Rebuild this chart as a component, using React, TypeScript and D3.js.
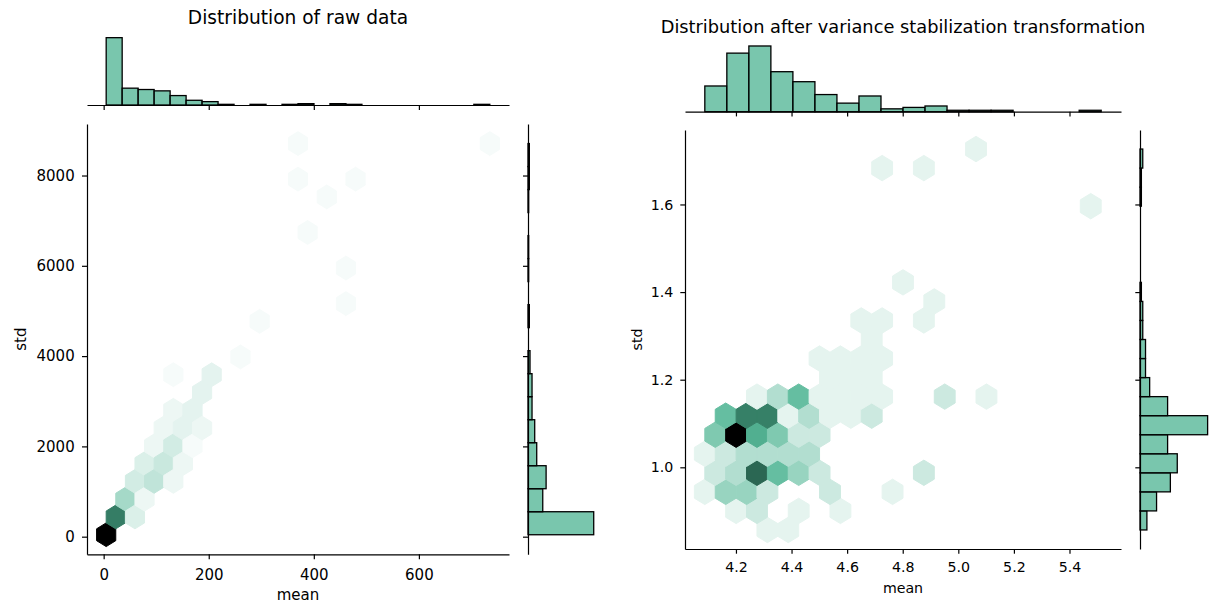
import React, { useEffect, useRef } from 'react';
import * as d3 from 'd3';

const WIDTH = 1209;
const HEIGHT = 605;
const BASE_COLOR = '#4CB391';

// ---- left panel: raw mean / std ----
const rawTitle = 'Distribution of raw data';
const rawMeanExtent = [4.8, 735];
const rawStdExtent = [43, 8708];
const rawGridSize = 20;
// hexbin cells: [col, row, count], col/row in half-cell steps from the lattice origin
const rawHexCells = [
    [0, 0, 40], [1, 1, 26], [2, 2, 10], [3, 1, 4], [3, 3, 5], [4, 2, 2], [4, 4, 4],
    [5, 3, 7], [5, 5, 2], [6, 4, 6], [6, 6, 2], [7, 3, 2], [7, 5, 5], [7, 7, 2],
    [8, 4, 2], [8, 6, 3], [9, 5, 1], [9, 7, 3], [10, 6, 2], [10, 8, 3], [11, 9, 3],
    [7, 9, 1], [14, 10, 1], [16, 12, 1], [21, 17, 1], [25, 13, 1], [25, 15, 1],
    [23, 19, 1], [20, 20, 1], [26, 20, 1], [20, 22, 1], [40, 22, 1],
];
const rawMeanHist = [100, 25, 23, 21, 14, 7, 5, 1, 0, 1, 0, 1, 2, 0, 2, 1, 0, 0, 0, 0, 0, 0, 0, 1];
const rawStdHist = [98, 22, 27, 13, 10, 6, 6, 3, 0, 2, 0, 1, 1, 0, 1, 2, 2];
const rawMeanTicks = [0, 200, 400, 600];
const rawStdTicks = [0, 2000, 4000, 6000, 8000];

// ---- right panel: after variance stabilization ----
const vstTitle = 'Distribution after variance stabilization transformation';
const vstMeanExtent = [4.088, 5.514];
const vstStdExtent = [0.857, 1.7265];
const vstGridSize = 19;
const vstHexCells = [
    [6, 0, 1], [8, 0, 1],
    [3, 1, 1], [5, 1, 2], [9, 1, 1], [13, 1, 1],
    [0, 2, 1], [2, 2, 4], [4, 2, 4], [6, 2, 2], [12, 2, 2], [18, 2, 1],
    [1, 3, 2], [3, 3, 3], [5, 3, 10], [7, 3, 6], [9, 3, 4], [11, 3, 2], [21, 3, 2],
    [0, 4, 1], [2, 4, 2], [4, 4, 3], [6, 4, 3], [8, 4, 3], [10, 4, 3],
    [1, 5, 5], [3, 5, 14], [5, 5, 7], [7, 5, 5], [9, 5, 2], [11, 5, 2],
    [2, 6, 6], [4, 6, 9], [6, 6, 9], [8, 6, 1], [10, 6, 3], [12, 6, 1], [14, 6, 1], [16, 6, 2],
    [5, 7, 1], [7, 7, 3], [9, 7, 6], [11, 7, 1], [13, 7, 1], [15, 7, 1], [17, 7, 1], [23, 7, 2], [27, 7, 1],
    [12, 8, 1], [14, 8, 1], [16, 8, 1],
    [11, 9, 1], [13, 9, 1], [15, 9, 1], [17, 9, 1],
    [16, 10, 1],
    [15, 11, 1], [17, 11, 1], [21, 11, 1],
    [22, 12, 1], [19, 13, 1], [37, 17, 1], [17, 19, 1], [21, 19, 1], [26, 20, 1],
];
const vstMeanHist = [18, 41, 46, 28, 21, 12, 6, 11, 2, 3, 4, 1, 1, 1, 0, 0, 0, 1];
const vstStdHist = [5, 12, 22, 27, 20, 49, 20, 7, 4, 4, 2, 2, 1, 0, 0, 0, 0, 1, 1, 2];
const vstMeanTicks = [4.2, 4.4, 4.6, 4.8, 5.0, 5.2, 5.4];
const vstStdTicks = [1.0, 1.2, 1.4, 1.6];

const drawJoint = (svg, s) => {
    const g = svg.append('g');
    const [xMin, xMax] = s.xExtent;
    const [yMin, yMax] = s.yExtent;
    const xPad = (xMax - xMin) * 0.05;
    const yPad = (yMax - yMin) * 0.05;

    const x = d3.scaleLinear()
        .domain([xMin - xPad, xMax + xPad])
        .range([s.frame.left, s.frame.right]);
    const y = d3.scaleLinear()
        .domain([yMin - yPad, yMax + yPad])
        .range([s.frame.bottom, s.frame.top]);

    // hexbin on the matplotlib lattice (pointy-top hexagons)
    const nx = s.gridSize;
    const ny = Math.floor(nx / Math.sqrt(3));
    const sx = (xMax - xMin) / nx;
    const sy = (yMax - yMin) / ny;
    const corners = [[0.5, -0.5], [0.5, 0.5], [0, 1], [-0.5, 0.5], [-0.5, -0.5], [0, -1]];
    const base = d3.hsl(BASE_COLOR);
    const shades = d3.range(12).map(i => d3.hsl(base.h, base.s, 1 - i / 11).formatHex());
    const cmap = d3.scaleLinear()
        .domain(d3.range(12).map(i => i / 11))
        .range(shades)
        .interpolate(d3.interpolateRgb);
    const maxCount = d3.max(s.cells, d => d[2]);
    const hexPath = ([i, j]) => {
        const cx = xMin + i * sx / 2;
        const cy = yMin + j * sy / 2;
        return 'M' + corners.map(([dx, dy]) => `${x(cx + dx * sx)},${y(cy + dy * sy / 3)}`).join('L') + 'Z';
    };

    g.append('g')
        .selectAll('path')
        .data(s.cells)
        .join('path')
        .attr('d', hexPath)
        .attr('fill', d => cmap(d[2] / maxCount))
        .attr('stroke', d => cmap(d[2] / maxCount))
        .attr('stroke-width', 1);

    // marginal histograms
    const xBinW = (xMax - xMin) / s.xHist.length;
    const yBinW = (yMax - yMin) / s.yHist.length;
    const topCount = d3.scaleLinear()
        .domain([0, d3.max(s.xHist) * 1.05])
        .range([s.top.bottom, s.top.top]);
    const rightCount = d3.scaleLinear()
        .domain([0, d3.max(s.yHist) * 1.05])
        .range([s.right.left, s.right.right]);

    const barStyle = sel => sel
        .attr('fill', BASE_COLOR)
        .attr('fill-opacity', 0.75)
        .attr('stroke', '#000')
        .attr('stroke-width', 1.3);

    g.append('g')
        .selectAll('rect')
        .data(s.xHist.map((c, i) => ({ c, i })).filter(d => d.c > 0))
        .join('rect')
        .attr('x', d => x(xMin + d.i * xBinW))
        .attr('width', d => x(xMin + (d.i + 1) * xBinW) - x(xMin + d.i * xBinW))
        .attr('y', d => topCount(d.c))
        .attr('height', d => topCount(0) - topCount(d.c))
        .call(barStyle);

    g.append('g')
        .selectAll('rect')
        .data(s.yHist.map((c, i) => ({ c, i })).filter(d => d.c > 0))
        .join('rect')
        .attr('x', rightCount(0))
        .attr('width', d => rightCount(d.c) - rightCount(0))
        .attr('y', d => y(yMin + (d.i + 1) * yBinW))
        .attr('height', d => y(yMin + d.i * yBinW) - y(yMin + (d.i + 1) * yBinW))
        .call(barStyle);

    // axes
    const styleAxis = sel => {
        sel.attr('font-family', 'DejaVu Sans, sans-serif').attr('font-size', s.tickFont);
        sel.select('.domain').attr('stroke', '#000').attr('stroke-width', 1.2);
        sel.selectAll('.tick line').attr('stroke', '#000').attr('stroke-width', 1.2);
        sel.selectAll('.tick text').attr('fill', '#000');
    };

    g.append('g')
        .attr('transform', `translate(0,${s.frame.bottom})`)
        .call(d3.axisBottom(x).tickValues(s.xTicks).tickFormat(s.fmt).tickSize(s.tickLen).tickSizeOuter(0).tickPadding(s.padX))
        .call(styleAxis);

    g.append('g')
        .attr('transform', `translate(${s.frame.left},0)`)
        .call(d3.axisLeft(y).tickValues(s.yTicks).tickFormat(s.fmtY).tickSize(s.tickLen).tickSizeOuter(0).tickPadding(s.padY))
        .call(styleAxis);

    g.append('g')
        .attr('transform', `translate(0,${s.top.bottom})`)
        .call(d3.axisBottom(x).tickValues(s.xTicks).tickFormat(() => '').tickSize(s.tickLen).tickSizeOuter(0))
        .call(styleAxis);

    g.append('g')
        .attr('transform', `translate(${s.right.left},0)`)
        .call(d3.axisLeft(y).tickValues(s.yTicks).tickFormat(() => '').tickSize(s.tickLen).tickSizeOuter(0))
        .call(styleAxis);

    const cx = (s.frame.left + s.frame.right) / 2;
    const text = g.append('g')
        .attr('font-family', 'DejaVu Sans, sans-serif')
        .attr('fill', '#000')
        .attr('text-anchor', 'middle');

    text.append('text')
        .attr('x', cx)
        .attr('y', s.titleY)
        .attr('font-size', s.titleFont)
        .text(s.title);

    text.append('text')
        .attr('x', cx)
        .attr('y', s.xLabelY)
        .attr('font-size', s.tickFont)
        .text('mean');

    text.append('text')
        .attr('transform', `translate(${s.yLabelX},${(s.frame.top + s.frame.bottom) / 2}) rotate(-90)`)
        .attr('font-size', s.tickFont)
        .text('std');
};

const App = () => {
    const svgRef = useRef(null);

    useEffect(() => {
        const svg = d3.select(svgRef.current);
        svg.selectAll('*').remove();

        drawJoint(svg, {
            title: rawTitle,
            xExtent: rawMeanExtent,
            yExtent: rawStdExtent,
            gridSize: rawGridSize,
            cells: rawHexCells,
            xHist: rawMeanHist,
            yHist: rawStdHist,
            xTicks: rawMeanTicks,
            yTicks: rawStdTicks,
            fmt: d3.format('d'),
            fmtY: d3.format('d'),
            frame: { left: 87, right: 509, top: 124, bottom: 554.3 },
            top: { top: 34.3, bottom: 105 },
            right: { left: 528, right: 597 },
            tickLen: 5,
            padX: 10,
            padY: 7.3,
            tickFont: 15,
            titleFont: 18.6,
            titleY: 24,
            xLabelY: 600,
            yLabelX: 26,
        });

        drawJoint(svg, {
            title: vstTitle,
            xExtent: vstMeanExtent,
            yExtent: vstStdExtent,
            gridSize: vstGridSize,
            cells: vstHexCells,
            xHist: vstMeanHist,
            yHist: vstStdHist,
            xTicks: vstMeanTicks,
            yTicks: vstStdTicks,
            fmt: d3.format('.1f'),
            fmtY: d3.format('.1f'),
            frame: { left: 685, right: 1121, top: 130, bottom: 549 },
            top: { top: 42.7, bottom: 111.7 },
            right: { left: 1140, right: 1211 },
            tickLen: 4.7,
            padX: 8.5,
            padY: 7,
            tickFont: 14.2,
            titleFont: 17.8,
            titleY: 33.3,
            xLabelY: 593.3,
            yLabelX: 641.6,
        });
    }, []);

    return (
        <svg
            ref={svgRef}
            width={WIDTH}
            height={HEIGHT}
            style={{ position: 'absolute', left: 0, top: 0, background: '#fff' }}
        ></svg>
    );
};

export default App;
